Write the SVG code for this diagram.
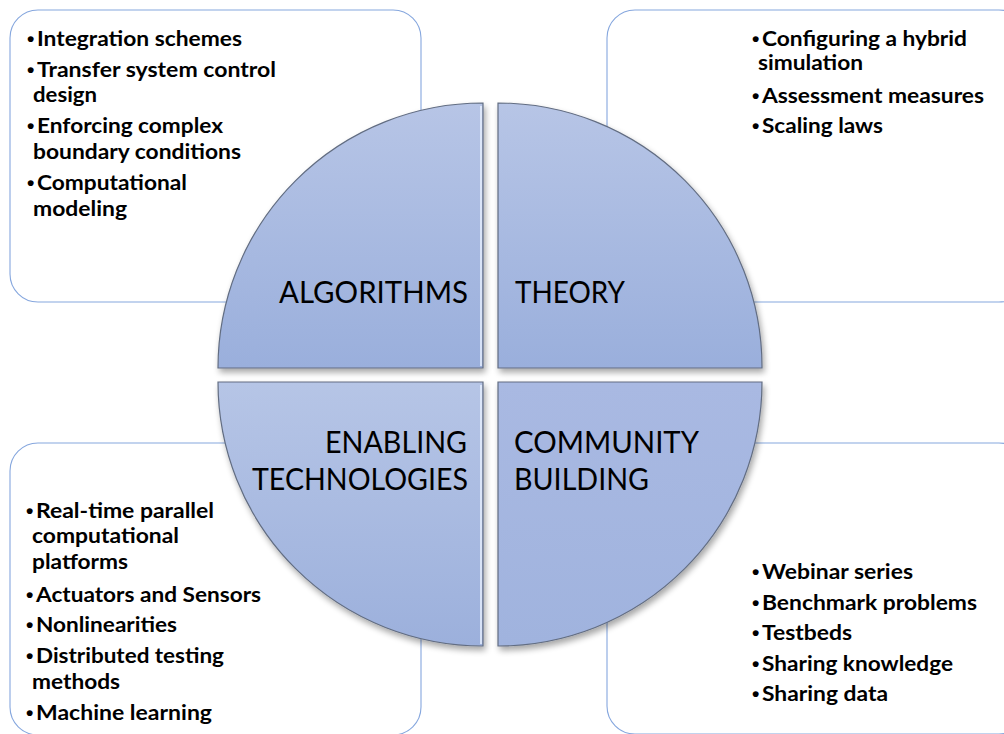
<svg xmlns="http://www.w3.org/2000/svg" width="1004" height="734" viewBox="0 0 1004 734">
  <defs>
    <linearGradient id="gTop" x1="0" y1="0" x2="0" y2="1">
      <stop offset="0" stop-color="#b7c5e6"/>
      <stop offset="1" stop-color="#9aafdc"/>
    </linearGradient>
    <linearGradient id="gBot" x1="0" y1="0" x2="0" y2="1">
      <stop offset="0" stop-color="#b6c5e6"/>
      <stop offset="1" stop-color="#9cb0dc"/>
    </linearGradient>
    <linearGradient id="gBR" x1="0" y1="0" x2="0" y2="1">
      <stop offset="0" stop-color="#a9b9e2"/>
      <stop offset="1" stop-color="#a0b3de"/>
    </linearGradient>
    <filter id="shadow" x="-10%" y="-10%" width="125%" height="125%">
      <feGaussianBlur in="SourceAlpha" stdDeviation="3"/>
      <feOffset dx="2" dy="4" result="b"/>
      <feComponentTransfer><feFuncA type="linear" slope="0.35"/></feComponentTransfer>
      <feMerge><feMergeNode/><feMergeNode in="SourceGraphic"/></feMerge>
    </filter>
  </defs>
  <style>
    .box { fill: #ffffff; stroke: #86a7de; stroke-width: 1.1; }
    .quad { stroke: #626d82; stroke-width: 1.2; filter: url(#shadow); }
    .hl { fill: none; stroke: #eaf2ff; stroke-width: 1.5; }
    .item { font-family: Lato, "Open Sans", "Liberation Sans", sans-serif; font-weight: bold; font-size: 21px; fill: #000000; }
    .b { font-family: "Liberation Sans", sans-serif; font-size: 21px; }
    .label { font-family: Lato, "Open Sans", "Liberation Sans", sans-serif; font-size: 31px; fill: #000000; }
  </style>
  <rect width="1004" height="734" fill="#ffffff"/>

  <g id="box-algorithms">
    <rect class="box" x="10" y="10" width="411" height="292" rx="28" ry="28"/>
    <text class="item" y="46"><tspan class="b" x="27">•</tspan><tspan x="37" textLength="205" lengthAdjust="spacingAndGlyphs">Integration schemes</tspan></text>
    <text class="item" y="77"><tspan class="b" x="27">•</tspan><tspan x="37" textLength="239" lengthAdjust="spacingAndGlyphs">Transfer system control</tspan></text>
    <text class="item" x="33" y="102" textLength="64" lengthAdjust="spacingAndGlyphs">design</text>
    <text class="item" y="133"><tspan class="b" x="27">•</tspan><tspan x="37" textLength="186" lengthAdjust="spacingAndGlyphs">Enforcing complex</tspan></text>
    <text class="item" x="33" y="159" textLength="208" lengthAdjust="spacingAndGlyphs">boundary conditions</text>
    <text class="item" y="190"><tspan class="b" x="27">•</tspan><tspan x="37" textLength="150" lengthAdjust="spacingAndGlyphs">Computational</tspan></text>
    <text class="item" x="33" y="216" textLength="94" lengthAdjust="spacingAndGlyphs">modeling</text>
  </g>

  <g id="box-theory">
    <rect class="box" x="607" y="10" width="420" height="292" rx="28" ry="28"/>
    <text class="item" y="46"><tspan class="b" x="752">•</tspan><tspan x="762" textLength="205" lengthAdjust="spacingAndGlyphs">Configuring a hybrid</tspan></text>
    <text class="item" x="758" y="70" textLength="105" lengthAdjust="spacingAndGlyphs">simulation</text>
    <text class="item" y="103"><tspan class="b" x="752">•</tspan><tspan x="762" textLength="222" lengthAdjust="spacingAndGlyphs">Assessment measures</tspan></text>
    <text class="item" y="133"><tspan class="b" x="752">•</tspan><tspan x="762" textLength="121" lengthAdjust="spacingAndGlyphs">Scaling laws</tspan></text>
  </g>

  <g id="box-enabling">
    <rect class="box" x="10" y="443" width="411" height="292" rx="28" ry="28"/>
    <text class="item" y="518"><tspan class="b" x="26">•</tspan><tspan x="36" textLength="178" lengthAdjust="spacingAndGlyphs">Real-time parallel</tspan></text>
    <text class="item" x="32" y="543" textLength="147" lengthAdjust="spacingAndGlyphs">computational</text>
    <text class="item" x="32" y="569" textLength="96" lengthAdjust="spacingAndGlyphs">platforms</text>
    <text class="item" y="602"><tspan class="b" x="26">•</tspan><tspan x="36" textLength="225" lengthAdjust="spacingAndGlyphs">Actuators and Sensors</tspan></text>
    <text class="item" y="632"><tspan class="b" x="26">•</tspan><tspan x="36" textLength="141" lengthAdjust="spacingAndGlyphs">Nonlinearities</tspan></text>
    <text class="item" y="663"><tspan class="b" x="26">•</tspan><tspan x="36" textLength="188" lengthAdjust="spacingAndGlyphs">Distributed testing</tspan></text>
    <text class="item" x="32" y="689" textLength="88" lengthAdjust="spacingAndGlyphs">methods</text>
    <text class="item" y="720"><tspan class="b" x="26">•</tspan><tspan x="36" textLength="176" lengthAdjust="spacingAndGlyphs">Machine learning</tspan></text>
  </g>

  <g id="box-community">
    <rect class="box" x="607" y="443" width="420" height="291" rx="28" ry="28"/>
    <text class="item" y="579"><tspan class="b" x="752">•</tspan><tspan x="762" textLength="151" lengthAdjust="spacingAndGlyphs">Webinar series</tspan></text>
    <text class="item" y="610"><tspan class="b" x="752">•</tspan><tspan x="762" textLength="215" lengthAdjust="spacingAndGlyphs">Benchmark problems</tspan></text>
    <text class="item" y="640"><tspan class="b" x="752">•</tspan><tspan x="762" textLength="90" lengthAdjust="spacingAndGlyphs">Testbeds</tspan></text>
    <text class="item" y="671"><tspan class="b" x="752">•</tspan><tspan x="762" textLength="191" lengthAdjust="spacingAndGlyphs">Sharing knowledge</tspan></text>
    <text class="item" y="701"><tspan class="b" x="752">•</tspan><tspan x="762" textLength="126" lengthAdjust="spacingAndGlyphs">Sharing data</tspan></text>
  </g>

  <g id="quad-algorithms">
    <path class="quad" fill="url(#gTop)" d="M 483 368 L 218 368 A 265 265 0 0 1 483 103 Z"/>
    <line class="hl" x1="481" y1="106" x2="481" y2="366"/>
    <text class="label" x="279" y="303" textLength="189" lengthAdjust="spacingAndGlyphs">ALGORITHMS</text>
  </g>

  <g id="quad-theory">
    <path class="quad" fill="url(#gTop)" d="M 498 368 L 498 103 A 264 264 0 0 1 762 368 Z"/>
    <text class="label" x="515" y="303" textLength="110" lengthAdjust="spacingAndGlyphs">THEORY</text>
  </g>

  <g id="quad-enabling">
    <path class="quad" fill="url(#gBot)" d="M 483 382 L 483 646 A 265 264 0 0 1 218 382 Z"/>
    <line class="hl" x1="481" y1="385" x2="481" y2="644"/>
    <text class="label" x="325" y="453" textLength="142" lengthAdjust="spacingAndGlyphs">ENABLING</text>
    <text class="label" x="252" y="490" textLength="216" lengthAdjust="spacingAndGlyphs">TECHNOLOGIES</text>
  </g>

  <g id="quad-community">
    <path class="quad" fill="url(#gBR)" d="M 498 382 L 762 382 A 264 264 0 0 1 498 646 Z"/>
    <text class="label" x="514" y="453" textLength="185" lengthAdjust="spacingAndGlyphs">COMMUNITY</text>
    <text class="label" x="514" y="490" textLength="135" lengthAdjust="spacingAndGlyphs">BUILDING</text>
  </g>
</svg>
